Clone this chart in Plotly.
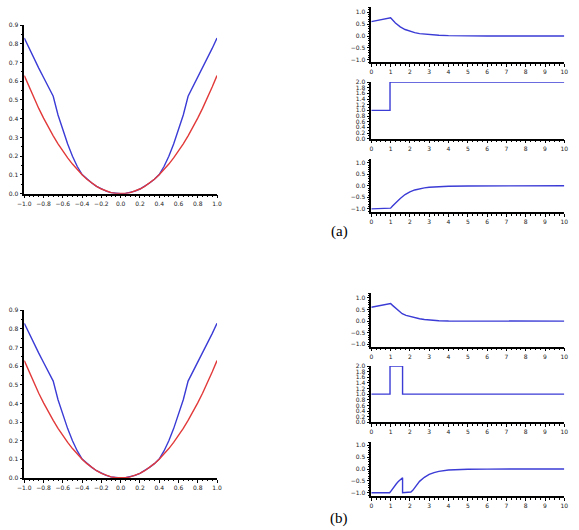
import plotly.graph_objects as go

# ---------------- data ----------------
# left panels (a) and (b): two curves on [-1, 1]
x_left = [-1.0, -0.95, -0.9, -0.85, -0.8, -0.75, -0.7, -0.65, -0.6, -0.55, -0.5,
          -0.45, -0.4, -0.35, -0.3, -0.25, -0.2, -0.15, -0.1, -0.05, 0.0,
          0.05, 0.1, 0.15, 0.2, 0.25, 0.3, 0.35, 0.4, 0.45, 0.5,
          0.55, 0.6, 0.65, 0.7, 0.75, 0.8, 0.85, 0.9, 0.95, 1.0]
red_left = [0.63, 0.569, 0.51, 0.455, 0.403, 0.354, 0.309, 0.266, 0.227, 0.191, 0.158,
            0.128, 0.101, 0.077, 0.057, 0.039, 0.025, 0.014, 0.006, 0.002, 0.0,
            0.002, 0.006, 0.014, 0.025, 0.039, 0.057, 0.077, 0.101, 0.128, 0.158,
            0.191, 0.227, 0.266, 0.309, 0.354, 0.403, 0.455, 0.51, 0.569, 0.63]
blue_left = [0.83, 0.775, 0.72, 0.67, 0.62, 0.57, 0.52, 0.42, 0.34, 0.265, 0.20,
             0.145, 0.102, 0.077, 0.057, 0.039, 0.025, 0.014, 0.006, 0.002, 0.0,
             0.002, 0.006, 0.014, 0.025, 0.039, 0.057, 0.077, 0.102, 0.145, 0.20,
             0.265, 0.34, 0.42, 0.52, 0.57, 0.62, 0.67, 0.72, 0.775, 0.83]

# right panels (a)
t_a1 = [0, 1.0, 1.25, 1.5, 1.75, 2.0, 2.25, 2.5, 2.75, 3.0, 3.5, 4.0, 5.0, 6.0, 10.0]
y_a1 = [0.60, 0.76, 0.54, 0.38, 0.27, 0.19, 0.14, 0.10, 0.075, 0.055, 0.03, 0.015, 0.005, 0.002, 0.0]
t_a2 = [0, 0.97, 0.97, 10.0]
y_a2 = [1.0, 1.0, 2.0, 2.0]
t_a3 = [0, 0.95, 1.0, 1.1, 1.25, 1.5, 1.75, 2.0, 2.25, 2.5, 2.75, 3.0, 3.5, 4.0, 5.0, 6.0, 10.0]
y_a3 = [-1.0, -1.0, -0.97, -0.88, -0.74, -0.55, -0.38, -0.26, -0.18, -0.13, -0.09, -0.065,
        -0.035, -0.018, -0.006, -0.002, 0.0]

# right panels (b)
t_b1 = [0, 1.0, 1.1, 1.25, 1.4, 1.6, 1.8, 2.0, 2.25, 2.5, 2.75, 3.0, 3.5, 4.0, 5.0, 10.0]
y_b1 = [0.60, 0.76, 0.68, 0.56, 0.45, 0.32, 0.25, 0.20, 0.145, 0.105, 0.07, 0.045, 0.02, 0.008, 0.002, 0.0]
t_b2 = [0, 0.97, 0.97, 1.62, 1.62, 10.0]
y_b2 = [1.0, 1.0, 2.0, 2.0, 1.0, 1.0]
t_b3 = [0, 0.95, 1.0, 1.1, 1.2, 1.3, 1.4, 1.5, 1.62, 1.62, 1.95, 2.05, 2.15, 2.3, 2.5,
        2.75, 3.0, 3.25, 3.5, 4.0, 4.5, 5.0, 6.0, 10.0]
y_b3 = [-1.0, -1.0, -0.95, -0.83, -0.72, -0.62, -0.53, -0.45, -0.37, -1.0, -1.0, -0.97,
        -0.9, -0.72, -0.52, -0.35, -0.23, -0.15, -0.10, -0.045, -0.022, -0.011, -0.004, 0.0]

panel_labels = ["(a)", "(b)"]

# ---------------- figure ----------------
W, H = 579, 530
BLUE = "#3b3bd6"
RED = "#e23a3a"
TICKFONT = dict(family="DejaVu Sans", size=6, color="#222222")


def px_x(p):
    return p / W


def px_y(p):
    return 1 - p / H


fig = go.Figure()

# (axis id, x-pixel span, y-pixel span(top, bottom), x range, y range, x dtick, x minor, y dtick, y minor, xfmt, yfmt)
panels = [
    (1, (24.3, 217.0), (25.0, 193.7), [-1, 1], [0, 0.9], 0.2, 0.05, 0.1, 0.05, ".1f", ".1f"),
    (2, (24.3, 217.0), (310.3, 478.0), [-1, 1], [0, 0.9], 0.2, 0.05, 0.1, 0.05, ".1f", ".1f"),
    (3, (371.3, 564.3), (7.3, 62.3), [0, 10], [-1.1, 1.2], 1, 0.25, 0.5, 0.1, "d", ".1f"),
    (4, (371.3, 564.3), (82.0, 138.7), [0, 10], [0, 2], 1, 0.25, 0.2, 0.1, "d", ".1f"),
    (5, (371.3, 564.3), (159.3, 212.3), [0, 10], [-1.15, 1.15], 1, 0.25, 0.5, 0.1, "d", ".1f"),
    (6, (371.3, 564.3), (293.3, 346.7), [0, 10], [-1.1, 1.2], 1, 0.25, 0.5, 0.1, "d", ".1f"),
    (7, (371.3, 564.3), (366.0, 422.3), [0, 10], [0, 2], 1, 0.25, 0.2, 0.1, "d", ".1f"),
    (8, (371.3, 564.3), (441.7, 496.3), [0, 10], [-1.15, 1.15], 1, 0.25, 0.5, 0.1, "d", ".1f"),
]

layout = {}
for (i, xs, ys, xr, yr, xd, xm, yd, ym, xf, yf) in panels:
    xa = "xaxis" if i == 1 else f"xaxis{i}"
    ya = "yaxis" if i == 1 else f"yaxis{i}"
    anchor_x = "x" if i == 1 else f"x{i}"
    anchor_y = "y" if i == 1 else f"y{i}"
    common = dict(showline=True, linecolor="black", linewidth=1.5, showgrid=False,
                  zeroline=False, ticks="outside", ticklen=3, tickwidth=1, tickcolor="black",
                  tickfont=TICKFONT, fixedrange=True, automargin=False)
    layout[xa] = dict(domain=[px_x(xs[0]), px_x(xs[1])], range=xr, anchor=anchor_y,
                      tick0=xr[0], dtick=xd, tickformat=xf,
                      minor=dict(dtick=xm, ticks="outside", ticklen=1.5, tickcolor="black"),
                      **common)
    layout[ya] = dict(domain=[px_y(ys[1]), px_y(ys[0])], range=yr, anchor=anchor_x,
                      tick0=0, dtick=yd, tickformat=yf,
                      minor=dict(dtick=ym, ticks="outside", ticklen=1.5, tickcolor="black"),
                      **common)

fig.update_layout(**layout)


def add(x, y, color, i):
    fig.add_trace(go.Scatter(x=x, y=y, mode="lines", line=dict(color=color, width=1.4),
                             xaxis="x" if i == 1 else f"x{i}",
                             yaxis="y" if i == 1 else f"y{i}",
                             showlegend=False, hoverinfo="skip"))


add(x_left, blue_left, BLUE, 1)
add(x_left, red_left, RED, 1)
add(x_left, blue_left, BLUE, 2)
add(x_left, red_left, RED, 2)
add(t_a1, y_a1, BLUE, 3)
add(t_a2, y_a2, BLUE, 4)
add(t_a3, y_a3, BLUE, 5)
add(t_b1, y_b1, BLUE, 6)
add(t_b2, y_b2, BLUE, 7)
add(t_b3, y_b3, BLUE, 8)

for lbl, ypx in zip(panel_labels, [231, 518]):
    fig.add_annotation(text=lbl, x=px_x(339), y=px_y(ypx), xref="paper", yref="paper",
                       xanchor="center", yanchor="middle", showarrow=False,
                       font=dict(family="Liberation Serif", size=15, color="black"))

fig.update_layout(width=W, height=H, margin=dict(l=0, r=0, t=0, b=0, autoexpand=False),
                  paper_bgcolor="white", plot_bgcolor="white")

fig.write_html("out.html")
